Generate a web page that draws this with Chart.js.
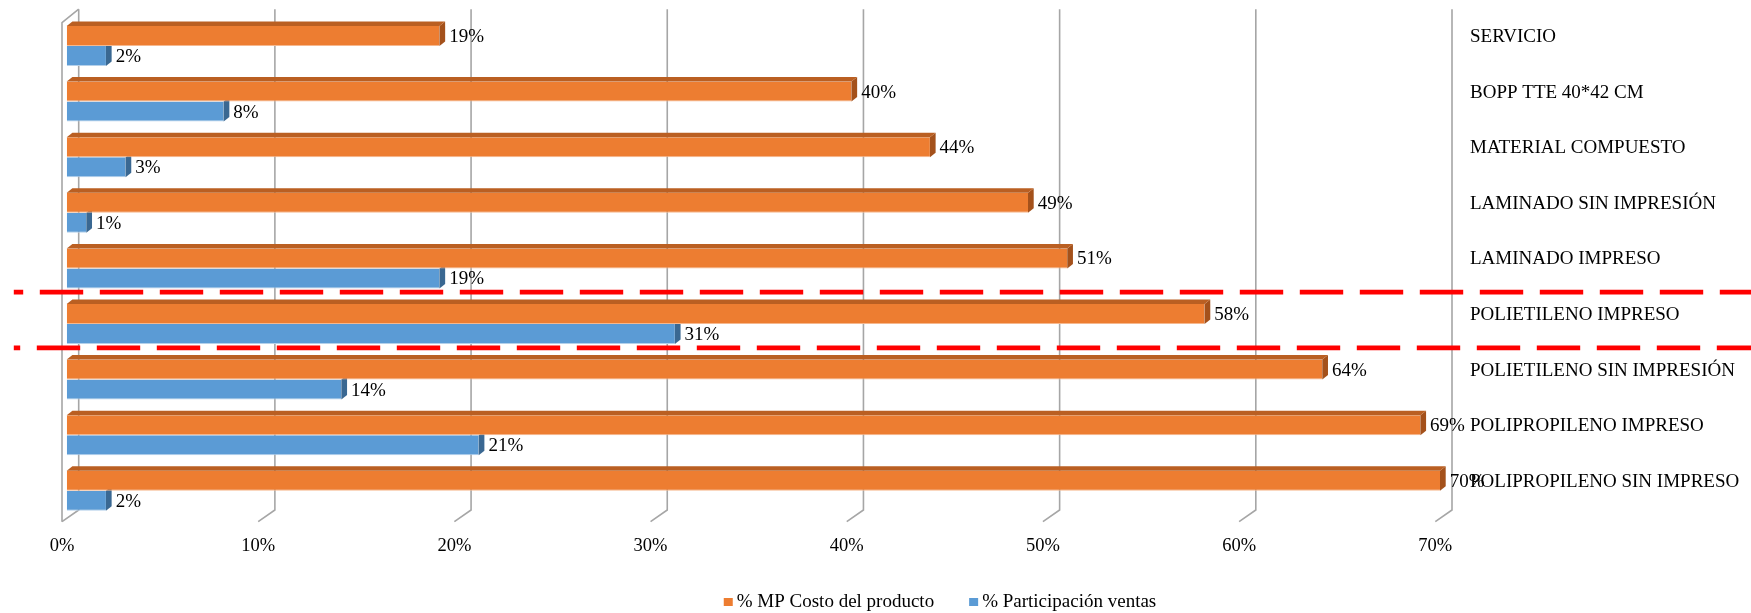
<!DOCTYPE html>
<html>
<head>
<meta charset="utf-8">
<script src="https://cdn.jsdelivr.net/npm/chart.js@4.4.1/dist/chart.umd.min.js"></script>
<style>
  html, body { margin: 0; padding: 0; background: #ffffff; }
  canvas { display: block; }
</style>
</head>
<body>
<canvas id="chart" width="1751" height="613"></canvas>
<script>
// Product lines, top to bottom
const categories = [
  'SERVICIO',
  'BOPP TTE 40*42 CM',
  'MATERIAL COMPUESTO',
  'LAMINADO SIN IMPRESIÓN',
  'LAMINADO IMPRESO',
  'POLIETILENO IMPRESO',
  'POLIETILENO SIN IMPRESIÓN',
  'POLIPROPILENO IMPRESO',
  'POLIPROPILENO SIN IMPRESO'
];
// Percentages per product line
const costoProducto = [19, 40, 44, 49, 51, 58, 64, 69, 70];
const participacionVentas = [2, 8, 3, 1, 19, 31, 14, 21, 2];
const seriesNames = ['% MP Costo del producto', '% Participación ventas'];
// Value axis ticks
const axisMin = 0;
const axisMax = 70;
const axisStep = 10;
// Row framed by the red dashed lines
const highlightedCategory = 'POLIETILENO IMPRESO';

// Styling
const SERIF = "'Liberation Serif', 'Times New Roman', serif";
const COLORS = [
  { front: '#ED7D31', top: '#BA5F22', side: '#A4511B', edge: '#F6B88E' },
  { front: '#5B9BD5', top: '#41719C', side: '#3A6892', edge: '#B4D0EA' }
];
const BAR_DEPTH = { dx: 5.7, dy: 4.5 };
const WALL = { dx: 12, topDy: -9, bottomDy: -8.6 };
const FRONT = { dx: -4.7, topDy: 4.5, bottomDy: 3.1 };

// Back wall, floor and side wall of the 3-D frame
const frame3d = {
  id: 'frame3d',
  beforeDatasetsDraw(chart) {
    const { ctx, chartArea: a, scales: { x } } = chart;
    const wallTop = a.top + WALL.topDy, wallBottom = a.bottom + WALL.bottomDy;
    const frontTop = a.top + FRONT.topDy, frontBottom = a.bottom + FRONT.bottomDy;
    ctx.save();
    ctx.strokeStyle = '#A6A6A6';
    ctx.lineWidth = 1.6;
    x.ticks.forEach(t => {
      const px = x.getPixelForValue(t.value);
      ctx.beginPath();
      ctx.moveTo(px + WALL.dx, wallTop);
      ctx.lineTo(px + WALL.dx, wallBottom);
      ctx.lineTo(px + FRONT.dx, frontBottom);
      ctx.stroke();
    });
    const p0 = x.getPixelForValue(x.min);
    ctx.beginPath();
    ctx.moveTo(p0 + FRONT.dx, frontBottom);
    ctx.lineTo(p0 + FRONT.dx, frontTop);
    ctx.lineTo(p0 + WALL.dx, wallTop);
    ctx.stroke();
    ctx.restore();
  },
  // side and top faces of each bar
  afterDatasetDraw(chart, args) {
    const { ctx } = chart;
    const c = COLORS[args.index];
    const { dx, dy } = BAR_DEPTH;
    ctx.save();
    args.meta.data.forEach(bar => {
      const { x: x1, y, base, height } = bar.getProps(['x', 'y', 'base', 'height'], true);
      const y0 = y - height / 2, y1 = y + height / 2;
      ctx.fillStyle = c.side;
      ctx.beginPath();
      ctx.moveTo(x1, y0);
      ctx.lineTo(x1 + dx, y0 - dy);
      ctx.lineTo(x1 + dx, y1 - dy);
      ctx.lineTo(x1, y1);
      ctx.closePath();
      ctx.fill();
      if (args.index === 0) {
        ctx.fillStyle = c.top;
        ctx.beginPath();
        ctx.moveTo(base, y0);
        ctx.lineTo(base + dx, y0 - dy);
        ctx.lineTo(x1 + dx, y0 - dy);
        ctx.lineTo(x1, y0);
        ctx.closePath();
        ctx.fill();
      }
    });
    ctx.restore();
  },
  // value labels at the end of each bar
  afterDatasetsDraw(chart) {
    const { ctx } = chart;
    ctx.save();
    ctx.font = '19px ' + SERIF;
    ctx.fillStyle = '#000000';
    ctx.textAlign = 'left';
    ctx.textBaseline = 'middle';
    chart.data.datasets.forEach((ds, di) => {
      chart.getDatasetMeta(di).data.forEach((bar, i) => {
        const { x, y } = bar.getProps(['x', 'y'], true);
        ctx.fillText(ds.data[i] + '%', x + BAR_DEPTH.dx + 4, y + 1);
      });
    });
    ctx.restore();
  },
  afterDraw(chart) {
    const { ctx, scales: { y } } = chart;
    // red dashed lines framing the highlighted row
    const idx = categories.indexOf(highlightedCategory);
    const center = y.getPixelForValue(idx);
    const half = (y.getPixelForValue(1) - y.getPixelForValue(0)) / 2;
    ctx.save();
    ctx.strokeStyle = '#FF0000';
    ctx.lineWidth = 4.7;
    ctx.setLineDash([43.4, 16.6]);
    [[center - half - 4, 34], [center + half - 4, 37]].forEach(([ly, off]) => {
      ctx.lineDashOffset = off;
      ctx.beginPath();
      ctx.moveTo(13.8, ly);
      ctx.lineTo(chart.width, ly);
      ctx.stroke();
    });
    ctx.restore();

    // legend
    ctx.save();
    ctx.font = '19px ' + SERIF;
    ctx.textBaseline = 'middle';
    ctx.textAlign = 'left';
    const box = 9, gap = 4, itemGap = 35;
    const widths = seriesNames.map(n => ctx.measureText(n).width);
    const total = widths.reduce((s, w) => s + box + gap + w, 0) + itemGap * (seriesNames.length - 1);
    let lx = 940 - total / 2;
    const ly = 602;
    seriesNames.forEach((name, i) => {
      ctx.fillStyle = COLORS[i].front;
      ctx.fillRect(lx, ly - 4, box, 8);
      ctx.fillStyle = '#000000';
      ctx.fillText(name, lx + box + gap, ly);
      lx += box + gap + widths[i] + itemGap;
    });
    ctx.restore();
  }
};

new Chart(document.getElementById('chart'), {
  type: 'bar',
  data: {
    labels: categories,
    datasets: [
      {
        label: seriesNames[0],
        data: costoProducto,
        backgroundColor: COLORS[0].front,
        borderColor: COLORS[0].edge,
        borderWidth: { top: 0, right: 0, bottom: 1, left: 0 },
        borderSkipped: false
      },
      {
        label: seriesNames[1],
        data: participacionVentas,
        backgroundColor: COLORS[1].front,
        borderColor: COLORS[1].edge,
        borderWidth: { top: 0, right: 0, bottom: 1, left: 0 },
        borderSkipped: false
      }
    ]
  },
  options: {
    indexAxis: 'y',
    responsive: false,
    animation: false,
    datasets: { bar: { categoryPercentage: 0.72, barPercentage: 1.0 } },
    layout: { padding: { left: 66.7, top: 18.2, right: 0, bottom: 0 } },
    plugins: {
      legend: { display: false },
      tooltip: { enabled: false }
    },
    scales: {
      x: {
        type: 'linear',
        position: 'bottom',
        min: axisMin,
        max: axisMax,
        grid: { display: false, drawTicks: false },
        border: { display: false },
        ticks: {
          stepSize: axisStep,
          padding: 16.3,
          labelOffset: FRONT.dx,
          color: '#000000',
          font: { family: SERIF, size: 18.5 },
          callback: v => v + '%'
        },
        afterFit(scale) { scale.height = 94.4; }
      },
      y: {
        type: 'category',
        position: 'right',
        grid: { display: false, drawTicks: false },
        border: { display: false },
        ticks: {
          padding: 30,
          labelOffset: -9,
          color: '#000000',
          font: { family: SERIF, size: 19 }
        },
        afterFit(scale) {
          scale.width = 311;
          scale.paddingTop = 0;
          scale.paddingBottom = 0;
        }
      }
    }
  },
  plugins: [frame3d]
});
</script>
</body>
</html>
